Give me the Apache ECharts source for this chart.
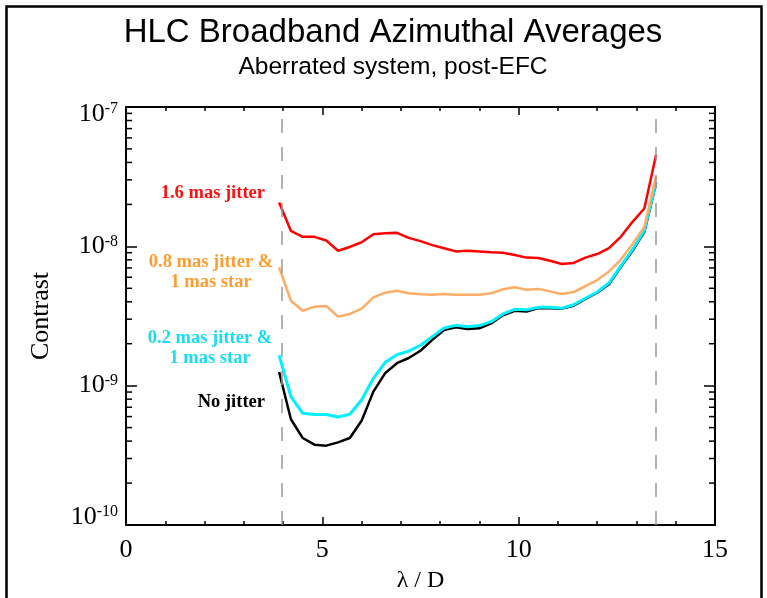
<!DOCTYPE html>
<html>
<head>
<meta charset="utf-8">
<script src="https://cdn.jsdelivr.net/npm/echarts@6/dist/echarts.min.js"></script>
<style>
html,body{margin:0;padding:0;background:#fff;}
#chart{width:767px;height:598px;}
</style>
</head>
<body>
<div id="chart"></div>
<script>
// ---- data ----
var lambdaD = [3.9,4.2,4.5,4.8,5.1,5.4,5.7,6.0,6.3,6.6,6.9,7.2,7.5,7.8,8.1,8.4,8.7,9.0,9.3,9.6,9.9,10.2,10.5,10.8,11.1,11.4,11.7,12.0,12.3,12.6,12.9,13.2,13.5];
var jitter16 = [2.06e-8,1.29e-8,1.17e-8,1.17e-8,1.10e-8,9.3e-9,9.9e-9,1.07e-8,1.22e-8,1.24e-8,1.25e-8,1.15e-8,1.09e-8,1.02e-8,9.7e-9,9.2e-9,9.3e-9,9.2e-9,9.06e-9,9.0e-9,8.67e-9,8.3e-9,8.25e-9,7.89e-9,7.47e-9,7.6e-9,8.3e-9,8.8e-9,9.7e-9,1.17e-8,1.5e-8,1.87e-8,4.55e-8];
var jitter08 = [7.08e-9,4.07e-9,3.45e-9,3.69e-9,3.73e-9,3.13e-9,3.27e-9,3.57e-9,4.3e-9,4.65e-9,4.8e-9,4.6e-9,4.53e-9,4.5e-9,4.55e-9,4.5e-9,4.5e-9,4.5e-9,4.6e-9,4.92e-9,5.08e-9,4.88e-9,4.95e-9,4.75e-9,4.55e-9,4.7e-9,5.19e-9,5.73e-9,6.6e-9,8.0e-9,1.04e-8,1.38e-8,3.18e-8];
var jitter02 = [1.65e-9,8.33e-10,6.33e-10,6.2e-10,6.2e-10,5.96e-10,6.23e-10,7.9e-10,1.13e-9,1.47e-9,1.67e-9,1.77e-9,1.95e-9,2.25e-9,2.59e-9,2.71e-9,2.65e-9,2.7e-9,2.88e-9,3.27e-9,3.53e-9,3.5e-9,3.65e-9,3.65e-9,3.6e-9,3.81e-9,4.24e-9,4.7e-9,5.45e-9,7.2e-9,9.5e-9,1.3e-8,2.9e-8];
var noJitter = [1.25e-9,5.74e-10,4.21e-10,3.77e-10,3.71e-10,3.92e-10,4.21e-10,5.6e-10,9.06e-10,1.23e-9,1.45e-9,1.58e-9,1.78e-9,2.13e-9,2.51e-9,2.62e-9,2.55e-9,2.58e-9,2.8e-9,3.2e-9,3.45e-9,3.4e-9,3.6e-9,3.6e-9,3.57e-9,3.75e-9,4.2e-9,4.65e-9,5.35e-9,7.1e-9,9.3e-9,1.27e-8,2.85e-8];
var dashedX = [3.96, 13.5];
var yDecades = [1e-10, 1e-9, 1e-8, 1e-7];
var minorMult = [2,3,4,5,6,7,8,9];
var seriesNames = ['No jitter','0.2 mas jitter & 1 mas star','0.8 mas jitter & 1 mas star','1.6 mas jitter'];

function pairs(ys){ return lambdaD.map(function(x,i){ return [x, ys[i]]; }); }
var minorVals = [];
for (var d = 0; d < yDecades.length - 1; d++) {
  minorMult.forEach(function(m){ minorVals.push([0, yDecades[d] * m]); });
}

var serif = '"Liberation Serif","Times New Roman",serif';
var sans = '"Liberation Sans",Arial,sans-serif';

var chart = echarts.init(document.getElementById('chart'), null, {renderer:'canvas'});

function xAxisCfg(pos, showLabel){
  return {
    type:'value', position:pos, min:0, max:15, interval:5,
    axisLine:{show:true, onZero:false, lineStyle:{color:'#000', width:2}},
    axisTick:{show:true, inside:true, length:8, lineStyle:{color:'#000', width:1.5}},
    minorTick:{show:true, splitNumber:5, length:4, lineStyle:{color:'#000', width:1.5}},
    splitLine:{show:false},
    axisLabel:{show:showLabel, color:'#000', fontFamily:serif, fontSize:26, margin:12},
    name: showLabel ? 'λ / D' : '',
    nameLocation:'middle', nameGap:44,
    nameTextStyle:{color:'#000', fontFamily:serif, fontSize:24}
  };
}
var richAll = {
  b:{fontFamily:serif, fontSize:26, lineHeight:26, color:'#000', verticalAlign:'bottom'},
  s:{fontFamily:serif, fontSize:16, lineHeight:16, color:'#000', verticalAlign:'top'},
  sp1:{fontSize:10, lineHeight:14},
  sp2:{fontSize:10, lineHeight:16}
};
function yAxisCfg(pos, showLabel){
  return {
    type:'log', logBase:10, position:pos, min:1e-10, max:1e-7,
    axisLine:{show:true, onZero:false, lineStyle:{color:'#000', width:2}},
    axisTick:{show:true, inside:true, length:11, lineStyle:{color:'#000', width:1.5}},
    splitLine:{show:false},
    axisLabel:{
      show:showLabel, margin:8, align:'right',
      formatter:function(v){
        var e = Math.round(Math.log10(v));
        var main = '{b|10}{s|' + e + '}';
        if (e === -7) return '{sp1| }\n' + main;
        if (e === -10) return main + '\n{sp2| }';
        return main;
      },
      rich:richAll
    },
    name: showLabel ? 'Contrast' : '',
    nameLocation:'middle', nameGap:72,
    nameTextStyle:{color:'#000', fontFamily:serif, fontSize:26}
  };
}

function lineSeries(name, ys, color, width){
  return {
    type:'line', name:name, data:pairs(ys), showSymbol:false, symbol:'none',
    lineStyle:{color:color, width:width}, z:3, silent:true, animation:false
  };
}

var option = {
  animation:false,
  backgroundColor:'#fff',
  grid:{left:126, right:52, top:107, bottom:73, containLabel:false},
  xAxis:[xAxisCfg('bottom', true), xAxisCfg('top', false)],
  yAxis:[yAxisCfg('left', true), yAxisCfg('right', false)],
  series:[
    {
      type:'line', data:[], silent:true,
      markLine:{
        silent:true, symbol:'none', label:{show:false},
        lineStyle:{color:'#999', width:1.5, type:[14,14]},
        data: dashedX.map(function(x){ return {xAxis:x}; })
      }
    },
    lineSeries(seriesNames[0], noJitter, '#000000', 2.5),
    lineSeries(seriesNames[1], jitter02, '#00f0ff', 3),
    lineSeries(seriesNames[2], jitter08, '#ffad66', 2.5),
    lineSeries(seriesNames[3], jitter16, '#ff0000', 2.5),
    {
      type:'custom', data:minorVals, silent:true, clip:false, z:4,
      renderItem:function(params, api){
        var v = api.value(1);
        var pl = api.coord([0, v]);
        var pr = api.coord([15, v]);
        var st = {stroke:'#000', lineWidth:1.5};
        return {type:'group', children:[
          {type:'line', shape:{x1:pl[0], y1:pl[1], x2:pl[0]+6, y2:pl[1]}, style:st},
          {type:'line', shape:{x1:pr[0], y1:pr[1], x2:pr[0]-6, y2:pr[1]}, style:st}
        ]};
      }
    }
  ],
  graphic:[
    {type:'rect', shape:{x:6.5, y:6.5, width:755, height:620}, style:{fill:null, stroke:'#000', lineWidth:2.5}, silent:true},
    {type:'text', x:393, y:33, style:{text:'HLC Broadband Azimuthal Averages', fontFamily:sans, fontSize:33, fill:'#000', textAlign:'center', textVerticalAlign:'middle'}},
    {type:'text', x:393, y:67, style:{text:'Aberrated system, post-EFC', fontFamily:sans, fontSize:24.5, fill:'#000', textAlign:'center', textVerticalAlign:'middle'}},
    {type:'text', x:265, y:193, style:{text:'1.6 mas jitter', fontFamily:serif, fontWeight:'bold', fontSize:18.5, fill:'#ff1010', textAlign:'right', textVerticalAlign:'middle'}},
    {type:'text', x:211, y:272, style:{text:'0.8 mas jitter &\n1 mas star', fontFamily:serif, fontWeight:'bold', fontSize:18.5, lineHeight:20.5, fill:'#ff9d30', textAlign:'center', textVerticalAlign:'middle'}},
    {type:'text', x:210, y:348, style:{text:'0.2 mas jitter &\n1 mas star', fontFamily:serif, fontWeight:'bold', fontSize:18.5, lineHeight:20.5, fill:'#18dcf5', textAlign:'center', textVerticalAlign:'middle'}},
    {type:'text', x:265, y:402, style:{text:'No jitter', fontFamily:serif, fontWeight:'bold', fontSize:18.5, fill:'#000', textAlign:'right', textVerticalAlign:'middle'}}
  ]
};
chart.setOption(option);
</script>
</body>
</html>
